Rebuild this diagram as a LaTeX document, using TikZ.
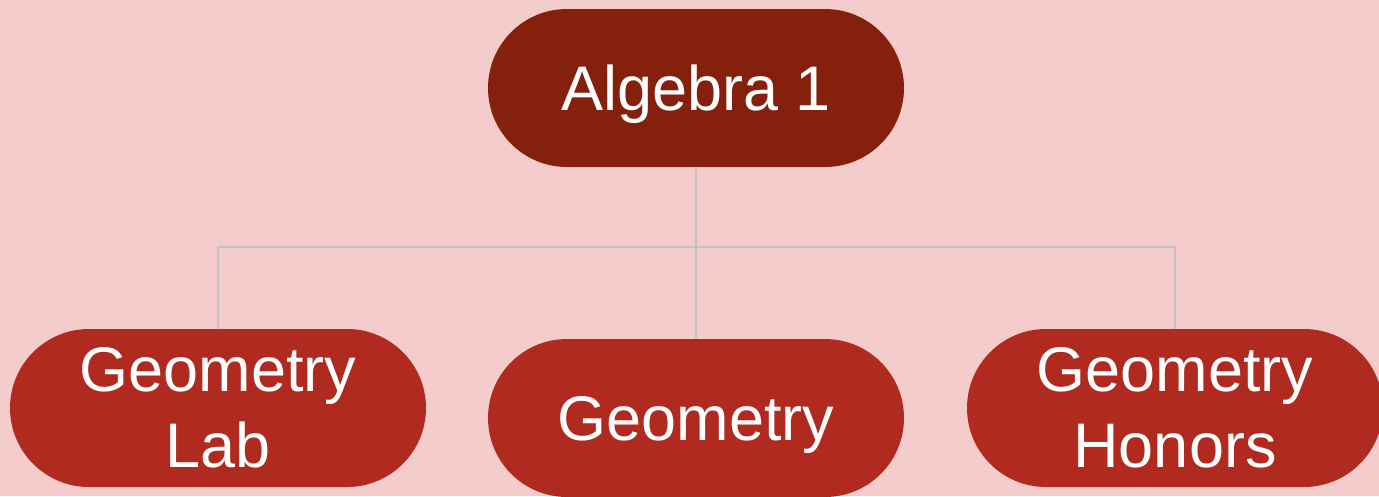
\documentclass[tikz,border=0pt]{standalone}
\usepackage{fontspec}
\setmainfont{Liberation Sans}
\usepackage{xcolor}
\usetikzlibrary{positioning}
\definecolor{pagebg}{HTML}{F4CCCC}
\definecolor{rootred}{HTML}{85200C}
\definecolor{childred}{HTML}{B02A20}
\definecolor{linkgray}{HTML}{C0C4C4}
\tikzset{
  course/.style   = {rectangle, rounded corners=79pt, minimum width=416pt,
                     minimum height=158pt, inner sep=0pt, align=center,
                     text=white, font=\fontsize{63}{76}\selectfont},
  oneline/.style  = {text height=45pt, text depth=0pt},
  rootbox/.style  = {course, oneline, fill=rootred},
  childbox/.style = {course, fill=childred},
  link/.style     = {draw=linkgray, line width=1.5pt}
}
\begin{document}
\begin{tikzpicture}[x=1pt, y=-1pt]
  % page
  \fill[pagebg] (0,0) rectangle (1379,496);
  \useasboundingbox (0,0) rectangle (1379,496);
  % courses
  \node[rootbox]           (alg) at (696,88)   {Algebra 1};
  \node[childbox]          (lab) at (218,408)  {Geometry\\Lab};
  \node[childbox, oneline] (geo) at (696,418)  {Geometry};
  \node[childbox]          (hon) at (1175,408) {Geometry\\Honors};
  % connectors
  \coordinate (bus) at (696,247);
  \draw[link] (alg.south) -- (bus) -| (lab.north);
  \draw[link] (bus) -| (hon.north);
  \draw[link] (bus) -- (geo.north);
\end{tikzpicture}
\end{document}
